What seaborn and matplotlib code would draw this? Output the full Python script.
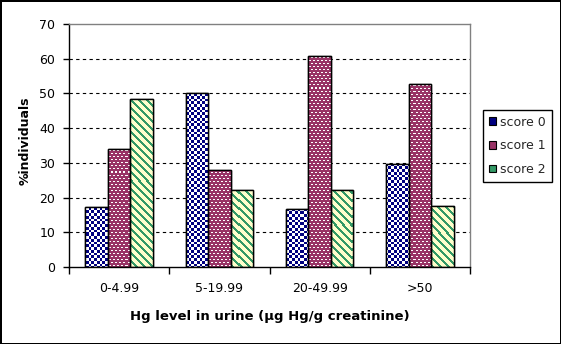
import numpy as np
import pandas as pd
import matplotlib
matplotlib.use("Agg")
import matplotlib.pyplot as plt
from matplotlib.patches import Rectangle, Patch
from matplotlib.colors import to_rgb
import seaborn as sns

# Data
categories = ["0-4.99", "5-19.99", "20-49.99", ">50"]
series = ["score 0", "score 1", "score 2"]
score0 = [17.3, 50.0, 16.6, 29.7]
score1 = [34.1, 27.8, 60.9, 52.7]
score2 = [48.4, 22.1, 22.2, 17.6]
yticks = [0, 10, 20, 30, 40, 50, 60, 70]

NAVY = "#000080"
MAROON = "#993366"
CREAM = "#FFFFCC"
GREEN = "#339966"

sns.set_theme(style="white")
plt.rcParams["font.family"] = ["DejaVu Sans"]

df = pd.DataFrame({
    "group": categories * 3,
    "score": np.repeat(series, len(categories)),
    "pct": score0 + score1 + score2,
})

fig = plt.figure(figsize=(5.61, 3.44), dpi=100)
ax = fig.add_axes([69 / 561, 77 / 344, 401 / 561, 243 / 344])

sns.barplot(data=df, x="group", y="pct", hue="score", order=categories,
            hue_order=series, palette=[NAVY, MAROON, CREAM], saturation=1,
            width=0.675, gap=0, errorbar=None, edgecolor="black",
            linewidth=1, legend=False, ax=ax)

ax.set_xlim(-0.5, 3.5)
ax.set_ylim(0, 70)
ax.set_yticks(yticks)

# Pixel textures for the fills
fig.canvas.draw()
W = int(round(ax.bbox.width))
H = int(round(ax.bbox.height))
jj, ii = np.meshgrid(np.arange(W), np.arange(H))
white = np.array(to_rgb("white"))

checker = ((np.floor(jj / 2.75) + np.floor(ii / 2.75)) % 2) == 0
tex0 = np.where(checker[..., None], np.array(to_rgb(NAVY)), white)

row_block = ii // 3
dash = (ii % 3 == 1) & (((jj + 2 * (row_block % 2)) % 4) < 2)
tex1 = np.where(dash[..., None], white, np.array(to_rgb(MAROON)))

stripe = ((jj - ii) % 8) < 3
tex2 = np.where(stripe[..., None], np.array(to_rgb(GREEN)), np.array(to_rgb(CREAM)))

textures = [tex0, tex1, tex2]
for k, cont in enumerate(ax.containers):
    for bar in cont:
        z = bar.get_zorder()
        im = ax.imshow(textures[k], extent=(-0.5, 3.5, 0, 70), origin="upper",
                       aspect="auto", interpolation="nearest", zorder=z + 0.1)
        im.set_clip_path(bar)
        ax.add_patch(Rectangle(bar.get_xy(), bar.get_width(), bar.get_height(),
                               fill=False, edgecolor="black", linewidth=1,
                               zorder=z + 0.2))

ax.set_xlim(-0.5, 3.5)
ax.set_ylim(0, 70)

# Grid
ax.set_axisbelow(True)
ax.yaxis.grid(True, color="black", linestyle=(0, (3, 3)), linewidth=0.8)
gl = ax.get_ygridlines()
gl[0].set_visible(False)
gl[-1].set_visible(False)

# Spines
for s in ["left", "bottom"]:
    ax.spines[s].set_color("black")
    ax.spines[s].set_linewidth(1)
for s in ["top", "right"]:
    ax.spines[s].set_color("#808080")
    ax.spines[s].set_linewidth(1)

# Ticks
ax.tick_params(axis="y", left=True, direction="out", length=4, width=1,
               color="black", pad=6, labelsize=9, labelcolor="black")
ax.set_xticks([-0.5, 0.5, 1.5, 2.5, 3.5], minor=True)
ax.tick_params(axis="x", which="minor", bottom=True, direction="out",
               length=5, width=1, color="black")
ax.tick_params(axis="x", which="major", bottom=False, length=0, pad=11,
               labelsize=9, labelcolor="black")

ax.set_xlabel("Hg level in urine (µg Hg/g creatinine)", fontsize=9.5,
              fontweight="bold", color="black")
ax.set_ylabel("%individuals", fontsize=9, fontweight="bold", color="black")
ax.xaxis.set_label_coords(0.5, -0.175)
ax.yaxis.set_label_coords(-0.092, 0.52)

# Legend
handles = [Patch(facecolor=NAVY, edgecolor="black", linewidth=0.8),
           Patch(facecolor=MAROON, edgecolor="black", linewidth=0.8),
           Patch(facecolor=GREEN, edgecolor="black", linewidth=0.8)]
leg = fig.legend(handles, series, loc="upper left",
                 bbox_to_anchor=(483 / 561, 1 - 110 / 344), frameon=True,
                 fancybox=False, edgecolor="black", framealpha=1,
                 handlelength=0.6, handleheight=0.6, handletextpad=0.35,
                 borderpad=0.45, labelspacing=0.85, fontsize=9,
                 borderaxespad=0)
leg.get_frame().set_linewidth(1)

fig.patch.set_edgecolor("black")
fig.patch.set_linewidth(2)
fig.savefig("out.png", dpi=100, facecolor="white", edgecolor="black")
